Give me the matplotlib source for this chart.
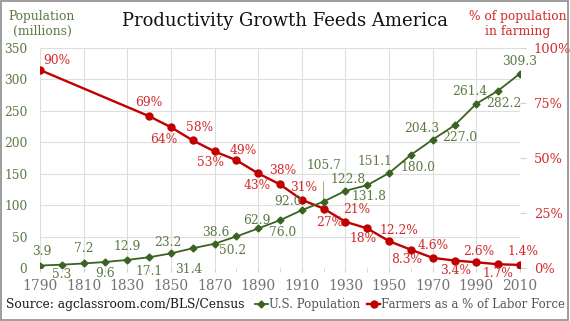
import matplotlib
matplotlib.use("Agg")
from matplotlib import pyplot as plt
from matplotlib.lines import Line2D
from matplotlib.patches import Rectangle

plt.rcParams["font.family"] = ["DejaVu Serif"]

years = list(range(1790, 2011, 10))
population = [3.9, 5.3, 7.2, 9.6, 12.9, 17.1, 23.2, 31.4, 38.6, 50.2, 62.9, 76.0,
              92.0, 105.7, 122.8, 131.8, 151.1, 180.0, 204.3, 227.0, 261.4, 282.2, 309.3]

farm_years = [1790, 1840, 1850, 1860, 1870, 1880, 1890, 1900, 1910, 1920, 1930,
              1940, 1950, 1960, 1970, 1980, 1990, 2000, 2010]
farm_pct = [90, 69, 64, 58, 53, 49, 43, 38, 31, 27, 21, 18, 12.2, 8.3, 4.6, 3.4, 2.6, 1.7, 1.4]
farm_labels = ["90%", "69%", "64%", "58%", "53%", "49%", "43%", "38%", "31%", "27%",
               "21%", "18%", "12.2%", "8.3%", "4.6%", "3.4%", "2.6%", "1.7%", "1.4%"]

# label offsets in points (dx, dy) from each marker
pop_off = [(1, 10), (0, -7), (0, 11), (0, -8), (0, 10), (0, -10), (-2, 8), (-3, -15),
           (1, 8), (-3, -10), (-1, 6), (2, -9), (-10, 6), (0, 26), (2, 8), (1, -8),
           (-10, 8), (5, -9), (-8, 8), (4, -9), (-5, 9), (4, -9), (0, 9)]
farm_off = [(12, 7), (0, 10), (-5, -9), (5, 9), (-3, -8), (5, 7), (-1, -9), (2, 10),
            (1, 9), (4, -10), (8, 9), (-3, -7), (7, 8), (-3, -7), (0, 9), (1, -7),
            (2, 8), (0, -7), (2, 10)]

green = "#3a6321"
green_txt = "#5b7a43"
red = "#c00000"
red_txt = "#d22b2b"

fig = plt.figure(figsize=(5.7, 3.21), dpi=100)
fig.patches.append(Rectangle((0.002, 0.003), 0.995, 0.993, transform=fig.transFigure,
                             fill=False, edgecolor="#8c8c8c", linewidth=1.2))

ax = fig.add_axes([40 / 570, 53 / 321, 480 / 570, 220 / 321])
ax2 = ax.twinx()

ax.set_xlim(1790, 2010)
ax.set_ylim(0, 350)
ax2.set_ylim(0, 100)
ax.set_xticks(range(1790, 2011, 20))
ax.set_xticks(range(1790, 2011, 10), minor=True)
ax.set_yticks(range(0, 351, 50))
ax2.set_yticks([0, 25, 50, 75, 100])
ax2.set_yticklabels(["0%", "25%", "50%", "75%", "100%"])

ax.grid(True, color="#dedede", linewidth=0.8)
ax.set_axisbelow(True)
for a in (ax, ax2):
    for s in a.spines.values():
        s.set_visible(False)

ax.tick_params(axis="x", which="both", colors="#d0d0d0", labelcolor="#737373",
               labelsize=10, length=3, pad=5)
ax.tick_params(axis="y", length=0, labelcolor=green_txt, labelsize=8.8, pad=9)
ax2.tick_params(axis="y", colors="#d0d0d0", labelcolor=red_txt, labelsize=9.4, length=4, pad=6)

ax2.plot(farm_years, farm_pct, color=red, linewidth=1.7, marker="o", markersize=5, zorder=3)
ax2.plot(years, [p / 3.5 for p in population], color=green, linewidth=1.3, marker="D",
         markersize=3.5, zorder=4)

for yr, p, (dx, dy) in zip(years, population, pop_off):
    if yr == 1920:
        ax2.annotate("%.1f" % p, (yr, p / 3.5), xytext=(dx, dy), textcoords="offset points",
                     ha="center", va="center", color=green_txt, fontsize=8.8,
                     arrowprops=dict(arrowstyle="-", color="#8aa070", linewidth=0.6,
                                     shrinkA=5, shrinkB=2))
    else:
        ax2.annotate("%.1f" % p, (yr, p / 3.5), xytext=(dx, dy), textcoords="offset points",
                     ha="center", va="center", color=green_txt, fontsize=8.8)

for yr, v, lab, (dx, dy) in zip(farm_years, farm_pct, farm_labels, farm_off):
    ax2.annotate(lab, (yr, v), xytext=(dx, dy), textcoords="offset points",
                 ha="center", va="center", color=red_txt, fontsize=8.8)

fig.text(0.5, 0.935, "Productivity Growth Feeds America", ha="center", va="center",
         fontsize=13, color="#111111")
fig.text(42 / 570, 0.925, "Population\n(millions)", ha="center", va="center",
         fontsize=8.8, color=green_txt, linespacing=1.25)
fig.text(518 / 570, 0.925, "% of population\nin farming", ha="center", va="center",
         fontsize=8.8, color=red_txt, linespacing=1.25)
fig.text(6 / 570, 0.05, "Source: agclassroom.com/BLS/Census", ha="left", va="center",
         fontsize=8.8, color="#1a1a1a")

handles = [Line2D([], [], color=green, linewidth=1.3, marker="D", markersize=3.5),
           Line2D([], [], color=red, linewidth=1.7, marker="o", markersize=5)]
leg = fig.legend(handles, ["U.S. Population", "Farmers as a % of Labor Force"],
                 loc="center right", bbox_to_anchor=(1.004, 0.05), ncol=2, frameon=False,
                 fontsize=8.5, handlelength=1.1, handletextpad=0.1, columnspacing=0.6,
                 borderpad=0.1)
for t in leg.get_texts():
    t.set_color("#555555")

fig.savefig("out.png", dpi=100)
